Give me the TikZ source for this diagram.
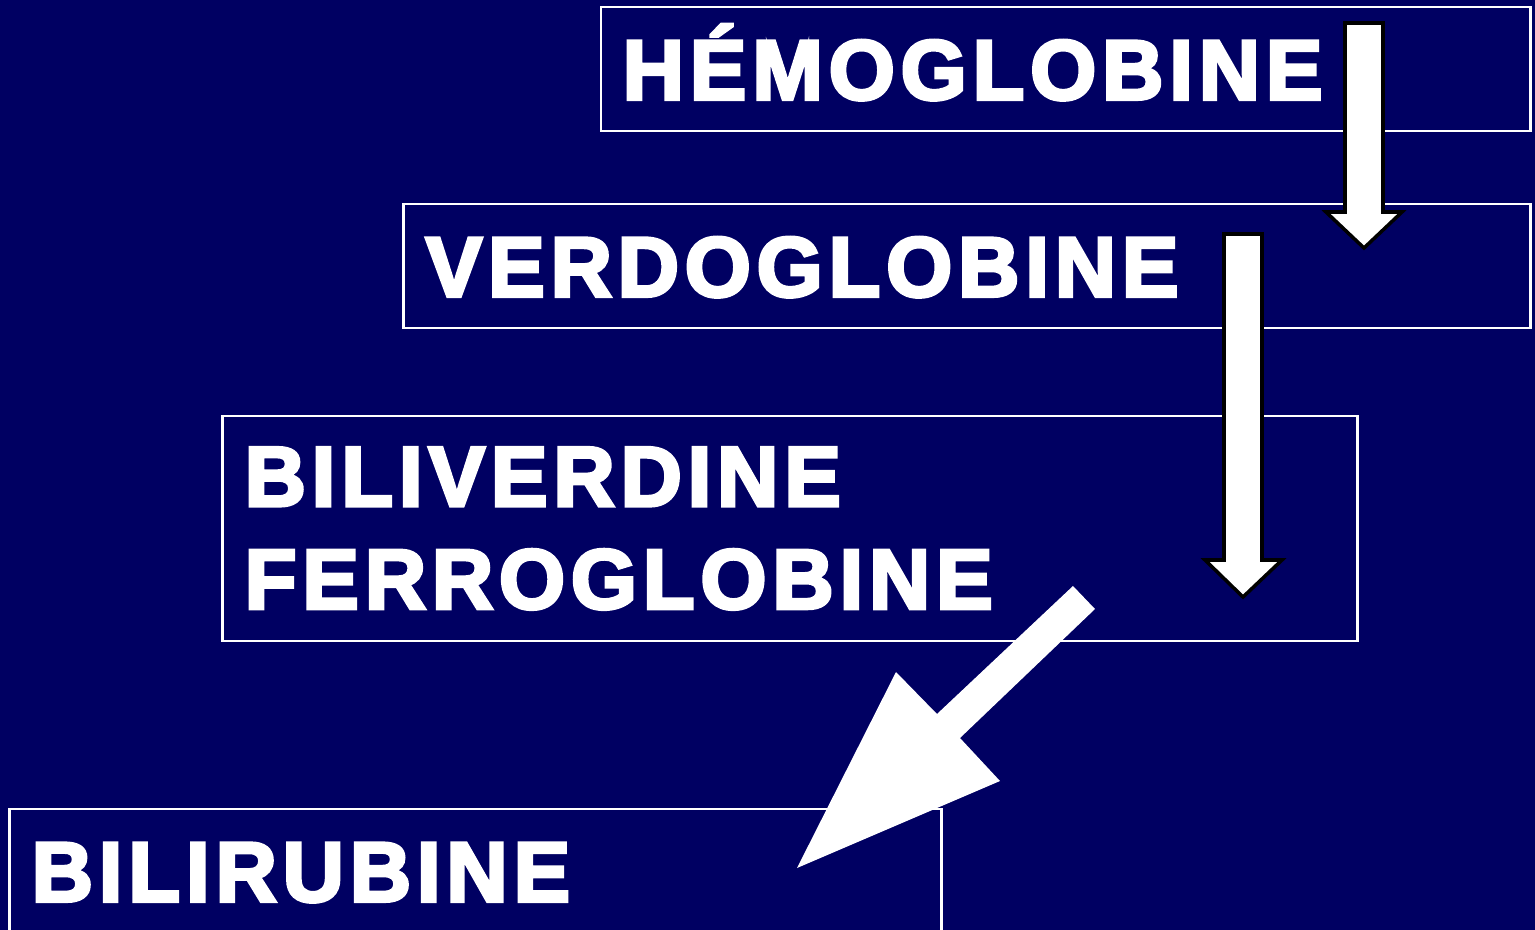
\documentclass[tikz,border=0pt]{standalone}
\usepackage{fontspec}
\setmainfont{Liberation Sans}[FakeBold=4,LetterSpace=7]
\definecolor{slidenavy}{RGB}{0,0,98}
\tikzset{
  stage/.style={draw=white, line width=0.7pt, text=white, align=left, inner xsep=0.22cm,
    font=\bfseries\fontsize{24.1}{29.2}\selectfont},
  oneline/.style={text height=0.607cm, text depth=0pt},
  blockarrow/.style={fill=white, draw=black, line width=1pt, line join=miter},
}
\begin{document}
\begin{tikzpicture}[x=0.01cm, y=-0.01cm]
        \fill[slidenavy] (0,0) rectangle (1535,930);
        \useasboundingbox (0,0) rectangle (1535,930);
        % the four stages
        \node[stage, oneline, minimum width=9.29cm, minimum height=1.24cm, text width=8.85cm] (hemo) at (1065.5,69) {HÉMOGLOBINE};
        \node[stage, oneline, minimum width=11.26cm, minimum height=1.24cm, text width=10.82cm] (verdo) at (967,266) {VERDOGLOBINE};
        \node[stage, minimum width=11.34cm, minimum height=2.25cm, text width=10.9cm] (bili) at (790,528.5) {BILIVERDINE\\FERROGLOBINE};
        \node[stage, oneline, minimum width=9.31cm, minimum height=1.24cm, text width=8.87cm] (biru) at (475.5,871) {BILIRUBINE};
        % arrows
        \draw[blockarrow] (1345,23) -- (1383,23) -- (1383,212) -- (1402,212) -- (1364,248) -- (1326,212) -- (1345,212) -- cycle;
        \draw[blockarrow] (1224,234) -- (1262,234) -- (1262,560) -- (1282,560) -- (1243,597) -- (1205,560) -- (1224,560) -- cycle;
        \fill[white] (1073,586) -- (1095,609) -- (960,738) -- (1000,781) -- (797,868) -- (896,672) -- (937,714) -- cycle;
    \end{tikzpicture}
\end{document}
